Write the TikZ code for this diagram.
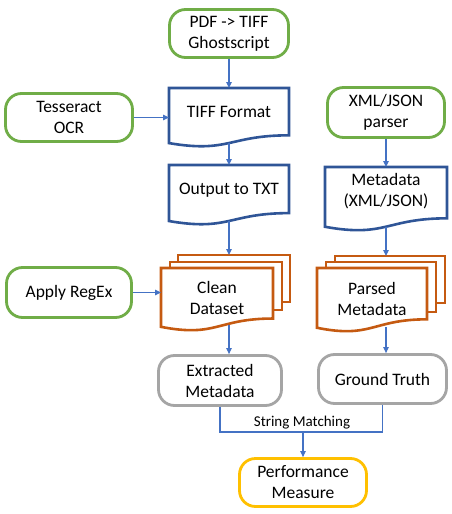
\documentclass[tikz,border=0pt]{standalone}
\usepackage{fontspec}
\setmainfont{Carlito}
\usetikzlibrary{arrows.meta,calc}
\definecolor{cgreen}{HTML}{70AD47}
\definecolor{cblue}{HTML}{2F5597}
\definecolor{carrow}{HTML}{4472C4}
\definecolor{corange}{HTML}{C55A11}
\definecolor{cgray}{HTML}{A5A5A5}
\definecolor{cyellow}{HTML}{FFC000}
\tikzset{
  rbox/.style={draw, line width=2.8pt, rounded corners=16pt, fill=white, align=center, inner sep=0pt, font=\fontsize{17.5}{21}\selectfont},
  greenbox/.style={rbox, draw=cgreen},
  graybox/.style={rbox, draw=cgray},
  yellowbox/.style={rbox, draw=cyellow},
  docline/.style={draw=cblue, line width=2.6pt, fill=white, line join=miter},
  multiline/.style={draw=corange, line width=2.6pt, fill=white, line join=miter},
  anchorbox/.style={draw=none, inner sep=0pt, outer sep=0pt},
  txt/.style={align=center, inner sep=0pt, font=\fontsize{17.5}{21}\selectfont},
  smalltxt/.style={inner sep=0pt, font=\fontsize{15}{17}\selectfont},
  conn/.style={draw=carrow, line width=1.1pt},
  arr/.style={conn, -{Triangle[length=6pt,width=5.5pt]}},
}
\newcommand{\mydocpath}[5]{% x0, y0, w, h, style
  \path[#5] (#1,#2) -- ({#1+#3},#2) -- ({#1+#3},{#2+0.802*#4})
    .. controls ({#1+0.5*#3},{#2+0.802*#4}) and ({#1+0.5*#3},{#2+1.107*#4}) ..
    (#1,{#2+0.934*#4}) -- cycle;}
\begin{document}
\begin{tikzpicture}[x=1pt,y=-1pt]
\useasboundingbox (0,0) rectangle (452,514);

% rounded boxes
\node[greenbox, minimum width=119pt, minimum height=48pt] (pdf) at (229,33.5) {PDF -> TIFF\\Ghostscript};
\node[greenbox, minimum width=127pt, minimum height=48pt] (tess) at (69,117.5) {Tesseract\\OCR};
\node[greenbox, minimum width=117pt, minimum height=50pt] (xml) at (386,112.5) {XML/JSON\\parser};
\node[greenbox, minimum width=125pt, minimum height=50pt] (regex) at (69,292.5) {Apply RegEx};
\node[graybox, minimum width=123pt, minimum height=50pt] (extracted) at (220,380.5) {Extracted\\Metadata};
\node[graybox, minimum width=128pt, minimum height=49pt] (ground) at (382.5,379) {Ground Truth};
\node[yellowbox, minimum width=127pt, minimum height=48pt] (perf) at (303,482.5) {Performance\\Measure};

% document shapes
\mydocpath{169}{88}{120}{59}{docline}
\node[anchorbox, minimum width=120pt, minimum height=55pt] (tiff) at (229,115.5) {};
\node[txt] (tiffL) at (229,112) {TIFF Format};

\mydocpath{169}{165}{120}{60}{docline}
\node[anchorbox, minimum width=120pt, minimum height=56pt] (out) at (229,193) {};
\node[txt] (outL) at (229,190) {Output to TXT};

\mydocpath{325}{167}{122}{64}{docline}
\node[anchorbox, minimum width=122pt, minimum height=59.7pt] (meta) at (386,196.9) {};
\node[txt] (metaL) at (386,191) {Metadata\\(XML/JSON)};

% multi-documents
\path[multiline] (178,255) rectangle (290,302);
\path[multiline] (170,262) rectangle (282,310);
\mydocpath{161}{268}{112}{63}{multiline}
\node[anchorbox, minimum width=129pt, minimum height=70pt] (clean) at (225.5,290) {};
\node[txt] (cleanL) at (217,298) {Clean\\Dataset};

\path[multiline] (335,256) rectangle (445,303);
\path[multiline] (326,262) rectangle (436,312);
\mydocpath{317}{268}{110}{64}{multiline}
\node[anchorbox, minimum width=128pt, minimum height=71pt] (parsed) at (381,291.5) {};
\node[txt] (parsedL) at (372,299) {Parsed\\Metadata};

% connectors
\draw[arr] (pdf.south) -- (tiff.north);
\draw[arr] (tess.east) -- (tess.east -| tiff.west);
\draw[arr] (tiff.south) -- (out.north);
\draw[arr] (out.south) -- (out.south |- clean.north);
\draw[arr] (regex.east) -- (regex.east -| clean.west);
\draw[arr] (xml.south) -- (meta.north);
\draw[arr] (meta.south) -- (meta.south |- parsed.north);
\draw[arr] (clean.south -| out.south) -- (extracted.north -| out.south);
\draw[arr] (parsed.south -| meta.south) -- (ground.north -| meta.south);

\coordinate (sm) at (303,432);
\draw[conn] (extracted.south) |- (sm) -| (ground.south);
\draw[arr] (sm) -- (perf.north);
\node[smalltxt] (smL) at (302,423) {String Matching};
\end{tikzpicture}
\end{document}
